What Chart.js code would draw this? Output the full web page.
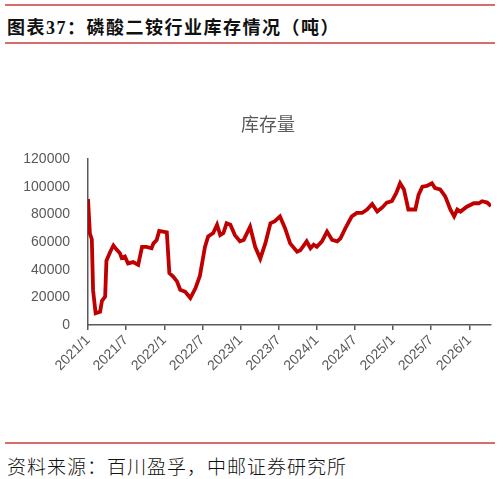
<!DOCTYPE html>
<html>
<head>
<meta charset="utf-8">
<script src="https://cdn.jsdelivr.net/npm/chart.js@4"></script>
<style>
  html, body { margin: 0; padding: 0; background: #fff; }
  body { width: 501px; height: 479px; position: relative; overflow: hidden; }
  .rule { position: absolute; left: 5px; width: 490px; height: 2px; background: #da6b6b; }
  #head {
    position: absolute; left: 7px; top: 13px; margin: 0;
    font: bold 18px "Liberation Serif", "Noto Sans CJK SC", serif;
    letter-spacing: 1.5px; color: #111; white-space: nowrap;
  }
  #chartTitle {
    position: absolute; left: 218px; width: 100px; top: 110px; text-align: center;
    font: 18px "Noto Sans CJK SC", sans-serif; color: #595959; white-space: nowrap;
  }
  #src {
    position: absolute; left: 7px; top: 452px;
    font: 19px "Noto Sans CJK SC", sans-serif; font-weight: 300;
    letter-spacing: 1px; color: #111; white-space: nowrap;
  }
  #box { position: absolute; left: 0; top: 50px; width: 501px; height: 388px; }
</style>
</head>
<body>
<div class="rule" style="top:4px"></div>
<h1 id="head">图表37：磷酸二铵行业库存情况（吨）</h1>
<div class="rule" style="top:42px"></div>
<div id="box"><canvas id="stockChart" width="501" height="388"></canvas></div>
<div id="chartTitle">库存量</div>
<div class="rule" style="top:442px"></div>
<div id="src">资料来源：百川盈孚，中邮证券研究所</div>

<script>
/* ---------------- DATA ---------------- */
// months since 2021/1
const months = [
  0, 0.3, 0.6, 0.8, 1.2, 1.9, 2.2, 2.7, 2.9, 3.5, 4.0, 4.5, 5.0, 5.3, 5.8,
  6.3, 7.1, 7.9, 8.5, 9.2, 10.0, 10.3, 10.8, 11.2, 12.4, 12.8, 13.4, 14.0, 14.5,
  15.3, 16.1, 16.9, 17.6, 18.4, 18.9, 19.7, 20.3, 20.8, 21.3, 21.8, 22.4, 23.1,
  23.9, 24.5, 25.5, 26.3, 27.1, 27.9, 28.7, 29.4, 30.2, 31.0, 31.8, 32.9, 33.4,
  34.4, 35.0, 35.5, 36.0, 36.8, 37.6, 38.4, 39.2, 39.7, 40.5, 41.5, 42.3, 43.1,
  43.9, 44.7, 45.5, 46.3, 47.0, 47.8, 48.5, 49.1, 49.7, 50.4, 51.5, 52.0, 52.6,
  53.3, 54.1, 54.6, 55.4, 56.2, 57.0, 57.6, 58.1, 58.6, 59.6, 60.7, 61.5, 62.0,
  62.8, 63.4
];
// inventory, tonnes
const stock = [
  91000, 66000, 62000, 25000, 8500, 9500, 17500, 20500, 46500, 53000, 57500, 54500, 52000, 48500, 49500,
  44500, 45500, 43500, 56500, 56500, 55500, 59000, 61500, 68000, 67000, 37500, 35000, 31500, 25500,
  24000, 19500, 26500, 35500, 56500, 64000, 66500, 72500, 65000, 66500, 73500, 72500, 65000,
  60500, 61500, 71000, 56500, 48000, 59000, 73500, 75000, 78500, 70000, 59000, 53000, 54000,
  60500, 55500, 58000, 56500, 60500, 67500, 61500, 60500, 62500, 70000, 78500, 81000, 81000,
  83500, 87500, 82000, 85000, 88500, 89500, 95500, 102500, 98000, 83500, 83500, 94000, 100000,
  100500, 102500, 99000, 98000, 93000, 83500, 78500, 83500, 82000, 85500, 88000, 88000, 89500,
  88500, 86000
];
const tickLabels = ["2021/1", "2021/7", "2022/1", "2022/7", "2023/1", "2023/7",
                    "2024/1", "2024/7", "2025/1", "2025/7", "2026/1"];
/* -------------------------------------- */

const axisGrey = "#595959";
const points = months.map((m, i) => ({ x: m, y: stock[i] }));

const ctx = document.getElementById("stockChart").getContext("2d");
new Chart(ctx, {
  type: "line",
  data: {
    datasets: [{
      label: "库存量",
      data: points,
      borderColor: "#c00000",
      borderWidth: 3.8,
      pointRadius: 0,
      tension: 0,
      fill: false
    }]
  },
  options: {
    responsive: false,
    animation: false,
    layout: { padding: { left: 0, right: 10, top: 109, bottom: 0 } },
    plugins: {
      legend: { display: false },
      tooltip: { enabled: false },
      title: { display: false }
    },
    scales: {
      x: {
        type: "linear",
        min: 0,
        max: 63.4,
        afterFit: (s) => { s.height = 113; },
        grid: { display: true, drawOnChartArea: false, drawTicks: true, tickLength: 5, color: axisGrey, lineWidth: 1.5 },
        border: { display: true, color: axisGrey, width: 1.5 },
        ticks: {
          stepSize: 6,
          includeBounds: false,
          autoSkip: false,
          minRotation: 45,
          maxRotation: 45,
          padding: 2,
          color: axisGrey,
          font: { family: "Liberation Sans", size: 14 },
          callback: (v) => tickLabels[Math.round(v / 6)] ?? ""
        }
      },
      y: {
        min: 0,
        max: 120000,
        afterFit: (s) => { s.width = 88; },
        grid: { display: false, drawTicks: false },
        border: { display: true, color: axisGrey, width: 1.5 },
        ticks: {
          stepSize: 20000,
          padding: 18,
          color: axisGrey,
          font: { family: "Liberation Sans", size: 14 },
          callback: (v) => String(v)
        }
      }
    }
  }
});
</script>
</body>
</html>
